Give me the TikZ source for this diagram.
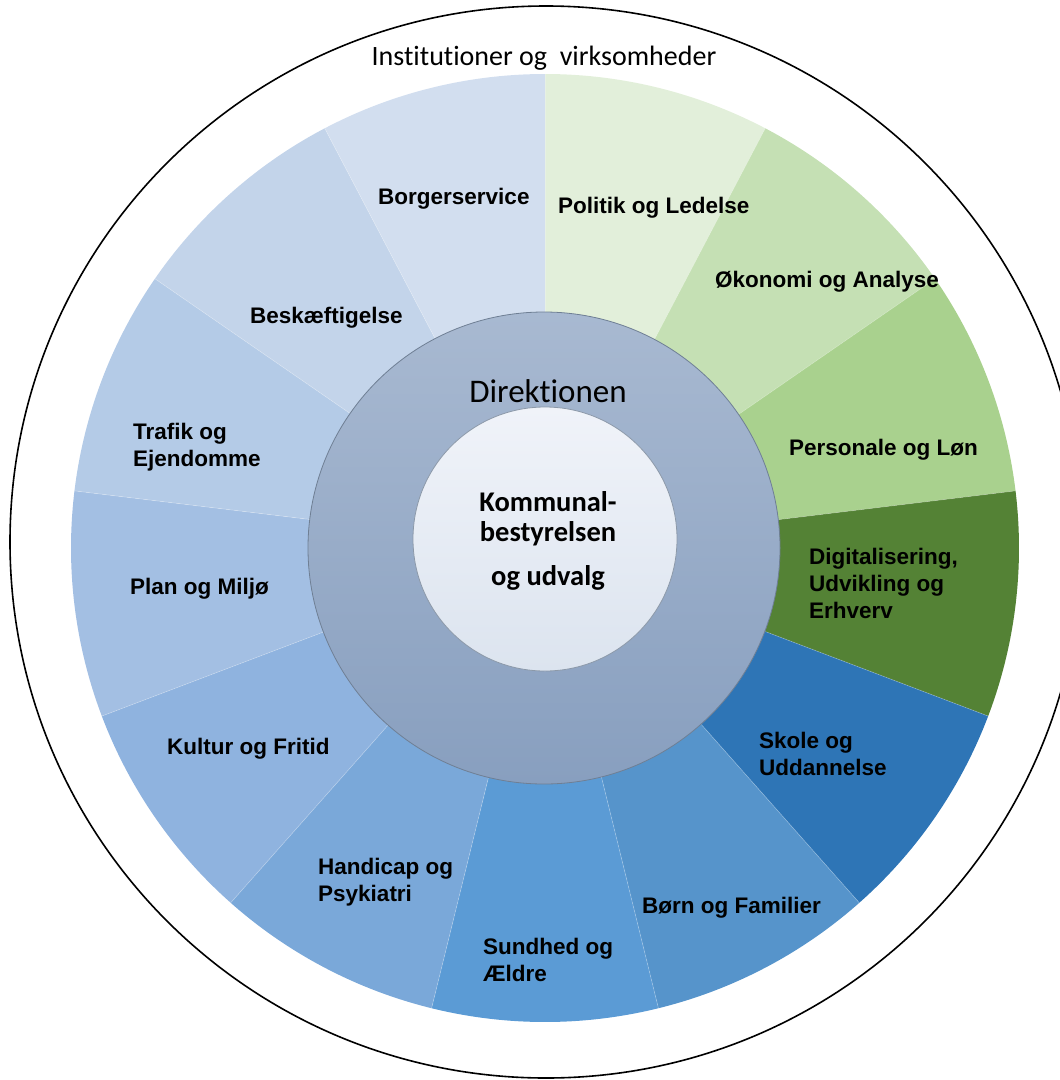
\documentclass[tikz,border=0pt]{standalone}
\usepackage{fontspec}
\setmainfont{Liberation Sans}
\newfontfamily\carl[Ligatures=NoCommon]{Carlito}
\begin{document}
\begin{tikzpicture}[x=1pt,y=1pt,
  lbl/.style={font=\bfseries\fontsize{22.5}{27}\selectfont, align=left, anchor=base west, inner sep=0pt, text=black},
  sep/.style={draw=white, draw opacity=0.25, line width=0.7pt},
  core/.style={font=\carl\bfseries\fontsize{28.5}{30}\selectfont, anchor=base, inner sep=0pt}]
\useasboundingbox (0,0) rectangle (1060,-1080);
\clip (0,0) rectangle (1060,-1080);

% colours of the thirteen areas, clockwise from the top
\definecolor{c0}{HTML}{E2EFDA}
\definecolor{c1}{HTML}{C5E0B4}
\definecolor{c2}{HTML}{A9D18E}
\definecolor{c3}{HTML}{548235}
\definecolor{c4}{HTML}{2E75B6}
\definecolor{c5}{HTML}{5694CB}
\definecolor{c6}{HTML}{5B9BD5}
\definecolor{c7}{HTML}{7AA8D9}
\definecolor{c8}{HTML}{8FB3DF}
\definecolor{c9}{HTML}{A3BFE3}
\definecolor{c10}{HTML}{B4CBE7}
\definecolor{c11}{HTML}{C3D4EA}
\definecolor{c12}{HTML}{D2DEEF}
\definecolor{ringtop}{HTML}{A8B9D1}
\definecolor{ringbot}{HTML}{889FBF}
\definecolor{ringline}{HTML}{6F7F94}
\definecolor{coretop}{HTML}{F0F3F9}
\definecolor{corebot}{HTML}{DCE4EF}

% outer frame
\draw[line width=1.6pt] (546,-542) circle[radius=536];

% sectors
\begin{scope}[shift={(545,-548)}]
\foreach \i in {0,...,12}{
  \pgfmathsetmacro{\aone}{90-\i*360/13}
  \pgfmathsetmacro{\atwo}{90-(\i+1)*360/13}
  \fill[c\i] (0,0) -- (\aone:474) arc[start angle=\aone, end angle=\atwo, radius=474] -- cycle;
}
\foreach \i in {0,...,12}{
  \pgfmathsetmacro{\aone}{90-\i*360/13}
  \draw[sep] (\aone:236) -- (\aone:474);
}
\end{scope}

% Direktionen ring and central circle
\shade[top color=ringtop, bottom color=ringbot, draw=ringline, line width=0.8pt]
  (544,-548) circle[radius=236];
\shade[top color=coretop, bottom color=corebot, draw=ringline!80, line width=0.8pt]
  (545,-539) circle[radius=132];

% texts
\node[font=\carl\fontsize{28}{32}\selectfont, anchor=base, inner sep=0pt] (inst) at (544,-65) {Institutioner og\ \ virksomheder};
\node[font=\carl\fontsize{33}{36}\selectfont, anchor=base, inner sep=0pt] (dir) at (548,-402) {Direktionen};
\node[core] (kb1) at (548,-511) {Kommunal-};
\node[core] (kb2) at (548,-541) {bestyrelsen};
\node[core] (kb3) at (548,-585) {og udvalg};

% labels: the base point is the baseline of the last line
\node[lbl] (l0) at (558,-213) {Politik og Ledelse};
\node[lbl] (l1) at (715,-287) {Økonomi og Analyse};
\node[lbl] (l2) at (789,-455) {Personale og Løn};
\node[lbl] (l3) at (809,-618) {Digitalisering,\\Udvikling og\\Erhverv};
\node[lbl] (l4) at (759,-775) {Skole og\\Uddannelse};
\node[lbl] (l5) at (642,-913) {Børn og Familier};
\node[lbl] (l6) at (483,-981) {Sundhed og\\Ældre};
\node[lbl] (l7) at (318,-901) {Handicap og\\Psykiatri};
\node[lbl] (l8) at (167,-754) {Kultur og Fritid};
\node[lbl] (l9) at (130,-594) {Plan og Miljø};
\node[lbl] (l10) at (133,-466) {Trafik og\\Ejendomme};
\node[lbl] (l11) at (250,-323) {Beskæftigelse};
\node[lbl] (l12) at (378,-204) {Borgerservice};
\end{tikzpicture}
\end{document}
